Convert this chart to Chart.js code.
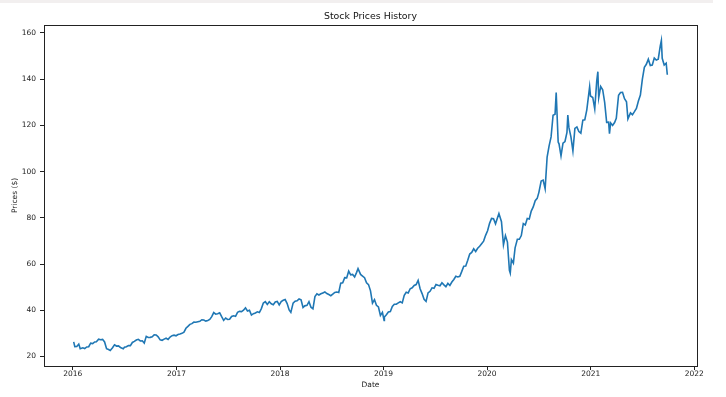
<!DOCTYPE html>
<html>
<head>
<meta charset="utf-8">
<title>Stock Prices History</title>
<script src="https://cdn.jsdelivr.net/npm/chart.js@4/dist/chart.umd.min.js"></script>
<style>
  html, body { margin: 0; padding: 0; background: #fff; }
  #wrap { position: relative; width: 726px; height: 397px; }
  #strip { position: absolute; left: 0; top: 0; width: 713px; height: 3px; background: #f2efef; z-index: 2; }
  canvas { position: absolute; left: 0; top: 0; }
</style>
</head>
<body>
<div id="wrap">
  <div id="strip"></div>
  <canvas id="chart" width="726" height="397"></canvas>
</div>
<script>
/* Stock price history (close, $) */

const dates = [
  '2016-01-04','2016-01-08','2016-01-15','2016-01-22','2016-01-27','2016-02-05','2016-02-12','2016-02-19','2016-02-26',
  '2016-03-04','2016-03-11','2016-03-18','2016-03-24','2016-04-01','2016-04-08','2016-04-15','2016-04-22','2016-04-29',
  '2016-05-06','2016-05-12','2016-05-20','2016-05-27','2016-06-03','2016-06-10','2016-06-17','2016-06-27','2016-07-01',
  '2016-07-08','2016-07-15','2016-07-22','2016-07-29','2016-08-05','2016-08-12','2016-08-19','2016-08-26','2016-09-02',
  '2016-09-09','2016-09-16','2016-09-23','2016-09-30','2016-10-07','2016-10-14','2016-10-21','2016-10-28','2016-11-04',
  '2016-11-11','2016-11-18','2016-11-25','2016-12-02','2016-12-09','2016-12-16','2016-12-23','2016-12-30',
  '2017-01-06','2017-01-13','2017-01-20','2017-01-27','2017-02-03','2017-02-10','2017-02-17','2017-02-24','2017-03-03',
  '2017-03-10','2017-03-17','2017-03-24','2017-03-31','2017-04-07','2017-04-14','2017-04-21','2017-04-28','2017-05-05',
  '2017-05-12','2017-05-19','2017-05-26','2017-06-02','2017-06-09','2017-06-16','2017-06-23','2017-06-30','2017-07-07',
  '2017-07-14','2017-07-21','2017-07-28','2017-08-04','2017-08-11','2017-08-18','2017-08-25','2017-09-01','2017-09-08',
  '2017-09-15','2017-09-22','2017-09-29','2017-10-06','2017-10-13','2017-10-20','2017-10-27','2017-11-03','2017-11-10',
  '2017-11-17','2017-11-24','2017-12-01','2017-12-08','2017-12-15','2017-12-22','2017-12-29',
  '2018-01-05','2018-01-12','2018-01-19','2018-01-26','2018-02-02','2018-02-08','2018-02-16','2018-02-23','2018-03-02',
  '2018-03-09','2018-03-16','2018-03-23','2018-03-29','2018-04-06','2018-04-13','2018-04-20','2018-04-27','2018-05-04',
  '2018-05-11','2018-05-18','2018-05-25','2018-06-01','2018-06-08','2018-06-15','2018-06-22','2018-06-29','2018-07-06',
  '2018-07-13','2018-07-20','2018-07-27','2018-08-03','2018-08-10','2018-08-17','2018-08-24','2018-08-31','2018-09-07',
  '2018-09-14','2018-09-21','2018-09-28','2018-10-03','2018-10-12','2018-10-19','2018-10-26','2018-11-02','2018-11-09',
  '2018-11-16','2018-11-23','2018-11-30','2018-12-07','2018-12-14','2018-12-21','2018-12-28',
  '2019-01-03','2019-01-04','2019-01-11','2019-01-18','2019-01-25','2019-02-01','2019-02-08','2019-02-15','2019-02-22',
  '2019-03-01','2019-03-08','2019-03-15','2019-03-22','2019-03-29','2019-04-05','2019-04-12','2019-04-19','2019-04-26',
  '2019-05-03','2019-05-10','2019-05-17','2019-05-24','2019-05-31','2019-06-07','2019-06-14','2019-06-21','2019-06-28',
  '2019-07-05','2019-07-12','2019-07-19','2019-07-26','2019-08-02','2019-08-09','2019-08-16','2019-08-23','2019-08-30',
  '2019-09-06','2019-09-13','2019-09-20','2019-09-27','2019-10-04','2019-10-11','2019-10-18','2019-10-25','2019-11-01',
  '2019-11-08','2019-11-15','2019-11-22','2019-11-29','2019-12-06','2019-12-13','2019-12-20','2019-12-27',
  '2020-01-03','2020-01-10','2020-01-17','2020-01-24','2020-01-31','2020-02-07','2020-02-12','2020-02-21','2020-02-28',
  '2020-03-06','2020-03-13','2020-03-20','2020-03-23','2020-03-27','2020-04-03','2020-04-09','2020-04-17','2020-04-24',
  '2020-05-01','2020-05-08','2020-05-15','2020-05-22','2020-05-29','2020-06-05','2020-06-12','2020-06-19','2020-06-26',
  '2020-07-02','2020-07-10','2020-07-17','2020-07-24','2020-07-31','2020-08-07','2020-08-14','2020-08-21','2020-08-28',
  '2020-09-01','2020-09-08','2020-09-11','2020-09-18','2020-09-25','2020-10-02','2020-10-09','2020-10-12','2020-10-16',
  '2020-10-23','2020-10-30','2020-11-06','2020-11-13','2020-11-20','2020-11-27','2020-12-04','2020-12-11','2020-12-18',
  '2020-12-28','2020-12-31',
  '2021-01-08','2021-01-15','2021-01-22','2021-01-26','2021-01-29','2021-02-05','2021-02-12','2021-02-19','2021-02-26',
  '2021-03-05','2021-03-08','2021-03-12','2021-03-19','2021-03-26','2021-04-01','2021-04-09','2021-04-16','2021-04-23',
  '2021-04-30','2021-05-07','2021-05-12','2021-05-21','2021-05-28','2021-06-04','2021-06-11','2021-06-18','2021-06-25',
  '2021-07-02','2021-07-09','2021-07-16','2021-07-23','2021-07-30','2021-08-06','2021-08-13','2021-08-20','2021-08-27',
  '2021-09-03','2021-09-07','2021-09-10','2021-09-17','2021-09-24','2021-09-28'
];

const prices = [
  26.34, 24.24, 24.28, 25.36, 23.36, 23.75, 23.40, 24.10, 24.20,
  25.75, 25.57, 26.30, 26.40, 27.50, 27.25, 27.40, 26.30, 23.40,
  23.00, 22.58, 23.80, 25.00, 24.50, 24.60, 23.90, 23.35, 23.97,
  24.20, 24.70, 24.67, 26.05, 26.50, 27.10, 27.40, 26.70, 26.80,
  25.80, 28.70, 28.20, 28.26, 28.50, 29.40, 29.30, 28.50, 27.20,
  27.00, 27.50, 27.90, 27.40, 28.40, 29.00, 29.20, 28.95,
  29.50, 29.70, 30.00, 30.50, 32.20, 33.00, 33.90, 34.20, 34.90,
  34.80, 35.00, 35.20, 35.90, 35.80, 35.30, 35.60, 36.00, 37.20,
  39.00, 38.30, 38.50, 38.90, 37.20, 35.60, 36.60, 36.00, 36.10,
  37.30, 37.60, 37.40, 39.10, 39.50, 39.40, 40.00, 41.00, 39.70,
  40.00, 37.90, 38.50, 38.80, 39.30, 39.00, 40.70, 43.10, 43.70,
  42.50, 43.70, 42.80, 42.40, 43.60, 43.80, 42.30,
  43.75, 44.30, 44.60, 42.90, 40.10, 39.10, 43.10, 43.90, 44.05,
  44.90, 44.50, 41.20, 41.90, 42.10, 43.70, 41.30, 40.60, 45.90,
  47.10, 46.60, 47.10, 47.50, 47.90, 47.20, 46.80, 46.30, 46.99,
  47.70, 47.90, 47.70, 51.70, 51.90, 54.10, 54.00, 56.90, 55.30,
  55.50, 54.40, 56.40, 58.00, 55.50, 54.80, 54.10, 51.90, 51.10,
  48.40, 43.10, 44.60, 42.10, 41.40, 37.70, 39.06,
  35.55, 37.06, 38.07, 39.20, 39.40, 41.60, 42.60, 42.60, 43.20,
  43.70, 43.20, 46.50, 47.80, 47.50, 49.30, 49.70, 50.70, 51.10,
  52.90, 49.30, 47.20, 44.70, 43.80, 47.50, 48.20, 49.70, 49.50,
  51.10, 50.80, 50.60, 51.90, 51.00, 50.20, 51.60, 50.70, 52.20,
  53.30, 54.70, 54.40, 54.70, 56.80, 59.05, 59.10, 61.60, 64.30,
  65.00, 66.60, 65.40, 66.80, 67.70, 68.80, 69.90, 72.40,
  74.40, 77.60, 79.70, 79.60, 77.40, 80.00, 81.80, 78.30, 68.30,
  72.30, 69.50, 57.30, 56.10, 61.90, 60.35, 66.99, 70.70, 70.70,
  72.30, 77.50, 76.90, 79.70, 79.50, 82.90, 84.70, 87.40, 88.40,
  91.00, 95.90, 96.30, 92.60, 106.30, 111.10, 115.00, 124.40, 124.80,
  134.20, 112.80, 112.00, 106.80, 112.30, 113.00, 116.97, 124.40, 119.00,
  115.00, 108.90, 118.70, 119.30, 117.30, 116.60, 122.25, 122.40, 126.70,
  136.70, 132.70,
  132.05, 127.10, 139.10, 143.20, 131.96, 136.80, 135.40, 129.90, 121.30,
  121.40, 116.40, 121.00, 119.99, 121.20, 123.00, 133.00, 134.20, 134.30,
  131.50, 130.20, 122.80, 125.40, 124.60, 125.90, 127.35, 130.50, 133.10,
  140.00, 145.10, 146.40, 148.60, 145.90, 146.10, 149.10, 148.20, 148.60,
  154.30, 156.70, 149.00, 146.10, 146.90, 141.90
];

const yTicks = [20, 40, 60, 80, 100, 120, 140, 160];
const yearTicks = ['2016', '2017', '2018', '2019', '2020', '2021', '2022'];

const DAY = 86400000;
const toDay = s => Date.parse(s + 'T00:00:00Z') / DAY;

const points = dates.map((d, i) => ({ x: toDay(d), y: prices[i] }));
const xTickVals = yearTicks.map(y => toDay(y + '-01-01'));

// matplotlib style 5% margins
const xs = points.map(p => p.x), ys = points.map(p => p.y);
const xMin = Math.min(...xs), xMax = Math.max(...xs);
const yMin = Math.min(...ys), yMax = Math.max(...ys);
const xPad = (xMax - xMin) * 0.05, yPad = (yMax - yMin) * 0.05;

const FONT = "'DejaVu Sans', sans-serif";
const INK = '#222';

// axes frame + title centred over the plot area, matplotlib style
const frame = {
  id: 'frame',
  afterDatasetsDraw(chart) {
    const { ctx, chartArea: a } = chart;
    ctx.save();
    ctx.strokeStyle = INK;
    ctx.lineWidth = 1;
    ctx.strokeRect(Math.round(a.left) + 0.5, Math.round(a.top) + 0.5,
      Math.round(a.right - a.left), Math.round(a.bottom - a.top));
    ctx.fillStyle = '#111';
    ctx.font = '9.4px ' + FONT;
    ctx.textAlign = 'center';
    ctx.textBaseline = 'middle';
    ctx.fillText('Stock Prices History', (a.left + a.right) / 2, 17);
    ctx.restore();
  }
};

new Chart(document.getElementById('chart').getContext('2d'), {
  type: 'line',
  data: {
    datasets: [{
      label: 'Close',
      data: points,
      borderColor: '#1f77b4',
      borderWidth: 1.6,
      pointRadius: 0,
      tension: 0,
      fill: false,
    }]
  },
  options: {
    responsive: false,
    animation: false,
    events: [],
    layout: { padding: { left: 0, right: 29, top: 25, bottom: 0 } },
    plugins: {
      legend: { display: false },
      tooltip: { enabled: false },
      title: { display: false }
    },
    scales: {
      x: {
        type: 'linear',
        min: xMin - xPad,
        max: xMax + xPad,
        afterBuildTicks: s => { s.ticks = xTickVals.map(v => ({ value: v })); },
        afterFit: s => { s.height = 31; },
        grid: { drawOnChartArea: false, drawTicks: true, tickLength: 4, color: INK },
        border: { display: true, color: INK, width: 1 },
        ticks: {
          color: INK, padding: 0, maxRotation: 0, autoSkip: false,
          font: { family: FONT, size: 7.5 },
          callback: v => yearTicks[xTickVals.indexOf(v)]
        },
        title: {
          display: true, text: 'Date', color: INK,
          font: { family: FONT, size: 7.5 },
          padding: { top: 7.5, bottom: 7.5 }
        }
      },
      y: {
        min: yMin - yPad,
        max: yMax + yPad,
        afterBuildTicks: s => { s.ticks = yTicks.map(v => ({ value: v })); },
        afterFit: s => { s.width = 44; },
        grid: { drawOnChartArea: false, drawTicks: true, tickLength: 4, color: INK },
        border: { display: true, color: INK, width: 1 },
        ticks: {
          color: INK, padding: 4, autoSkip: false,
          font: { family: FONT, size: 7.5 },
          callback: v => String(v)
        },
        title: {
          display: true, text: 'Prices ($)', color: INK,
          font: { family: FONT, size: 7.5 },
          padding: { top: 10.5, bottom: 10.5 }
        }
      }
    }
  },
  plugins: [frame]
});
</script>
</body>
</html>
